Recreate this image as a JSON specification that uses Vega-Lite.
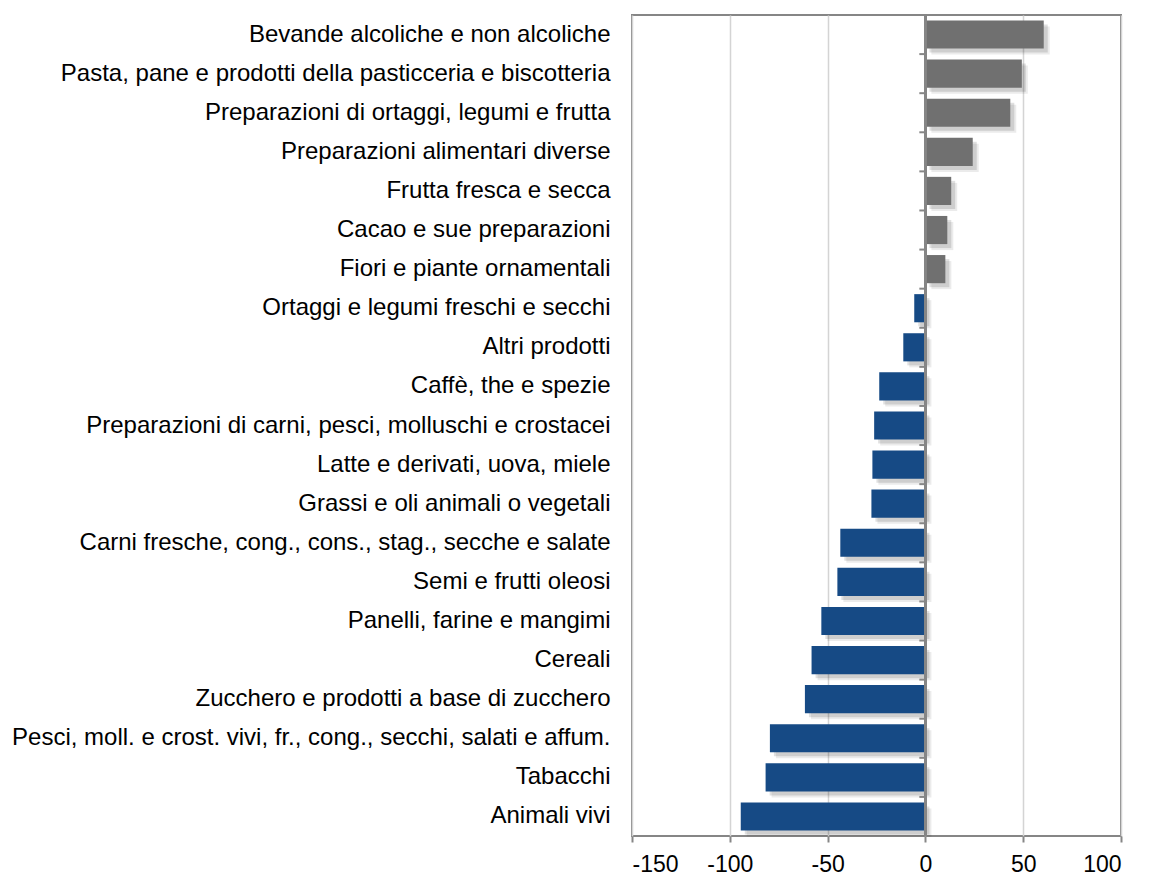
{
  "$schema": "https://vega.github.io/schema/vega-lite/v6.json",
  "width": 489,
  "height": 821,
  "autosize": {"type": "none"},
  "padding": {"left": 632, "top": 15, "right": 28, "bottom": 40},
  "background": "white",
  "config": {
    "font": "Liberation Sans",
    "view": {"stroke": "#868686", "strokeWidth": 2}
  },
  "data": {
    "values": [
      {"categoria": "Bevande alcoliche e non alcoliche", "valore": 60.5},
      {"categoria": "Pasta, pane e prodotti della pasticceria e biscotteria", "valore": 49.3},
      {"categoria": "Preparazioni di ortaggi, legumi e frutta", "valore": 43.4},
      {"categoria": "Preparazioni alimentari diverse", "valore": 24.2},
      {"categoria": "Frutta fresca e secca", "valore": 13.2},
      {"categoria": "Cacao e sue preparazioni", "valore": 11.2},
      {"categoria": "Fiori e piante ornamentali", "valore": 10.2},
      {"categoria": "Ortaggi e legumi freschi e secchi", "valore": -5.7},
      {"categoria": "Altri prodotti", "valore": -11.3},
      {"categoria": "Caffè, the e spezie", "valore": -23.6},
      {"categoria": "Preparazioni di carni, pesci, molluschi e crostacei", "valore": -26.2},
      {"categoria": "Latte e derivati, uova, miele", "valore": -27.1},
      {"categoria": "Grassi e oli animali o vegetali", "valore": -27.6},
      {"categoria": "Carni fresche, cong., cons., stag., secche e salate", "valore": -43.5},
      {"categoria": "Semi e frutti oleosi", "valore": -45.0},
      {"categoria": "Panelli, farine e mangimi", "valore": -53.2},
      {"categoria": "Cereali", "valore": -58.2},
      {"categoria": "Zucchero e prodotti a base di zucchero", "valore": -61.6},
      {"categoria": "Pesci, moll. e crost. vivi, fr., cong., secchi, salati e affum.", "valore": -79.5},
      {"categoria": "Tabacchi", "valore": -81.7},
      {"categoria": "Animali vivi", "valore": -94.4}
    ]
  },
  "encoding": {
    "y": {
      "field": "categoria", "type": "nominal", "sort": null,
      "scale": {"paddingInner": 0.28, "paddingOuter": 0.14},
      "axis": {
        "orient": "left", "title": null, "domain": false, "ticks": false,
        "labelFontSize": 24, "labelColor": "#000000", "labelPadding": 22, "labelLimit": 0,
        "labelFont": "Liberation Sans"
      }
    },
    "x": {
      "field": "valore",
      "type": "quantitative",
      "scale": {"domain": [-150, 100], "nice": false, "zero": false},
      "axis": {
        "orient": "bottom", "title": null, "values": [-150, -100, -50, 0, 50, 100],
        "domain": false, "tickSize": 6, "tickColor": "#868686", "tickWidth": 2,
        "labelFontSize": 23, "labelColor": "#000000", "labelPadding": 11,
        "grid": true, "gridColor": "#d4d4d4", "gridWidth": 1.5,
        "labelFont": "Liberation Sans",
        "labelExpr": "replace(datum.label, '\u2212', '-')"
      }
    }
  },
  "layer": [
    {
      "mark": {"type": "bar", "color": "#000000", "opacity": 0.08, "xOffset": 6, "yOffset": 6}
    },
    {
      "mark": {"type": "bar", "color": "#000000", "opacity": 0.12, "xOffset": 4, "yOffset": 4}
    },
    {
      "mark": {"type": "bar"},
      "encoding": {
        "color": {
          "condition": {"test": "datum.valore > 0", "value": "#707070"},
          "value": "#164a85"
        }
      }
    },
    {
      "mark": {"type": "rule", "color": "#868686", "strokeWidth": 2, "yOffset": -19.55},
      "encoding": {
        "x": {"datum": -3.1, "type": "quantitative"},
        "x2": {"datum": 0}
      }
    },
    {
      "mark": {"type": "rule", "color": "#868686", "strokeWidth": 2},
      "encoding": {
        "x": {"datum": 0, "type": "quantitative"},
        "y": null
      }
    }
  ]
}
